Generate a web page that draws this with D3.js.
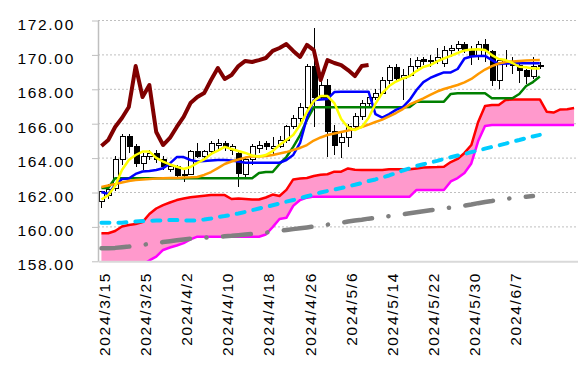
<!DOCTYPE html>
<html>
<head>
<meta charset="utf-8">
<script src="https://cdn.jsdelivr.net/npm/d3@7"></script>
<style>
body { margin: 0; background: #fff; }
svg text { font-family: "Liberation Sans", Arial, sans-serif; font-size: 15.5px; letter-spacing: 1.7px; fill: #000; }
</style>
</head>
<body>
<svg id="chart" width="583" height="378"></svg>
<script>
// trading days on the category axis (last few are only used by the cloud)
var dates = [
	"2024/3/15","2024/3/18","2024/3/19","2024/3/20","2024/3/21","2024/3/22",
	"2024/3/25","2024/3/26","2024/3/27","2024/3/28","2024/3/29",
	"2024/4/1","2024/4/2","2024/4/3","2024/4/4","2024/4/5",
	"2024/4/8","2024/4/9","2024/4/10","2024/4/11","2024/4/12",
	"2024/4/15","2024/4/16","2024/4/17","2024/4/18","2024/4/19",
	"2024/4/22","2024/4/23","2024/4/24","2024/4/25","2024/4/26",
	"2024/4/29","2024/4/30","2024/5/1","2024/5/2","2024/5/3",
	"2024/5/6","2024/5/7","2024/5/8","2024/5/9","2024/5/10",
	"2024/5/13","2024/5/14","2024/5/15","2024/5/16","2024/5/17",
	"2024/5/20","2024/5/21","2024/5/22","2024/5/23","2024/5/24",
	"2024/5/27","2024/5/28","2024/5/29","2024/5/30","2024/5/31",
	"2024/6/3","2024/6/4","2024/6/5","2024/6/6","2024/6/7",
	"2024/6/10","2024/6/11","2024/6/12","2024/6/13","2024/6/14",
	"2024/6/17","2024/6/18","2024/6/19","2024/6/20"
];

var tickLabels = ["2024/3/15","2024/3/25","2024/4/2","2024/4/10","2024/4/18","2024/4/26",
	"2024/5/6","2024/5/14","2024/5/22","2024/5/30","2024/6/7"];

var yTicks = [158,160,162,164,166,168,170,172];

// candles
var open = [161.5,161.8,162.25,163.93,165.28,164.7,163.66,164.08,164.28,163.9,
	163.35,163.5,163.0,163.05,164.37,164.08,164.37,164.75,164.86,164.45,
	164.28,163.02,163.89,164.57,164.83,164.55,164.70,165.05,165.81,166.33,
	166.97,169.3,167.55,168.25,165.52,164.9,165.17,165.81,166.39,167.20,
	167.55,167.78,168.54,169.24,168.60,168.83,169.35,169.75,169.59,169.70,
	169.5,170.23,170.40,170.63,170.3,169.88,170.58,170.19,168.54,169.6,
	169.53,169.41,169.12,168.77,169.35];
var high = [162.1,162.5,164.1,165.4,165.4,164.8,164.3,164.45,164.5,164.1,
	163.7,163.6,163.3,164.5,164.9,164.5,165.0,165.1,165.0,164.8,
	164.5,164.0,164.8,165.0,165.0,165.2,165.3,165.9,166.5,167.2,
	169.5,171.55,168.6,168.6,165.9,165.5,166.0,166.6,167.4,167.8,
	168.0,168.7,169.4,169.5,169.2,169.8,169.9,169.9,170.0,170.4,
	170.5,170.6,170.8,170.75,170.5,170.8,170.9,170.3,169.8,170.3,
	169.9,169.5,169.2,169.9,169.6];
var low = [161.1,161.6,162.1,163.6,164.3,163.5,163.3,163.9,163.7,163.3,
	163.2,162.9,162.6,163.0,164.0,163.8,164.2,164.5,164.4,164.2,
	162.34,162.8,163.6,164.3,164.5,164.2,164.6,164.9,165.7,166.1,
	166.8,165.8,167.4,164.08,164.18,164.0,164.66,165.6,166.2,166.9,
	167.4,167.7,168.3,168.4,167.38,168.7,169.2,169.4,169.3,169.5,
	169.3,169.9,170.2,170.1,169.4,169.7,169.6,168.2,168.0,169.3,
	168.9,168.35,168.3,168.6,169.2];
var close = [162.05,162.2,163.93,165.28,164.7,163.7,164.08,164.28,163.9,163.5,
	163.5,163.0,163.05,164.37,164.08,164.37,164.86,164.86,164.6,164.66,
	163.12,163.89,164.66,164.76,164.66,164.70,165.05,165.81,166.33,166.97,
	169.35,167.55,168.25,165.52,164.76,165.17,165.81,166.39,167.20,167.55,
	167.78,168.54,169.24,168.60,168.83,169.35,169.65,169.59,169.70,169.82,
	170.23,170.40,170.63,170.23,169.88,170.58,170.28,168.54,169.70,169.53,
	169.41,169.12,168.77,169.35,169.41];

// blue
var tenkan = [162.03,161.91,162.44,162.78,162.81,163.08,163.22,163.25,163.31,163.41,
	163.69,164.06,164.06,163.89,163.80,163.83,163.86,163.89,163.89,163.86,
	163.80,163.73,163.73,163.73,163.73,163.73,163.73,163.89,164.18,164.88,
	166.33,167.38,167.41,167.44,167.84,167.86,167.86,167.86,167.86,167.86,
	166.56,166.36,166.56,166.80,166.97,167.38,167.96,168.42,168.66,168.83,
	168.98,168.98,169.18,169.79,169.91,169.94,169.94,169.70,169.47,169.50,
	169.51,169.51,169.51,169.51,169.51];
// green
var kijun = [162.26,162.26,162.83,162.83,162.83,162.83,162.83,162.83,162.83,162.83,
	162.83,162.83,162.83,162.83,162.83,162.83,162.83,162.83,162.83,162.83,
	162.83,162.83,162.83,163.13,163.19,163.19,163.66,164.06,164.65,165.34,
	166.22,166.95,166.95,166.95,166.95,166.95,166.95,166.95,166.95,166.95,
	166.95,166.95,166.95,166.95,166.95,166.97,167.28,167.28,167.28,167.28,
	167.28,167.73,167.77,167.77,167.77,167.77,167.77,167.48,167.48,167.48,
	167.48,167.73,168.19,168.42,168.74];
// yellow
var ma5 = [161.59,161.85,162.38,163.31,163.89,164.18,164.38,164.38,164.01,163.80,
	163.63,163.50,163.37,163.48,163.72,163.92,164.24,164.44,164.65,164.53,
	164.41,164.30,164.15,164.09,164.18,164.41,164.76,165.05,165.34,165.92,
	166.68,167.32,167.61,167.61,167.20,166.27,165.78,165.63,165.81,166.33,
	167.15,167.78,168.19,168.45,168.63,168.77,169.06,169.30,169.41,169.62,
	169.79,169.94,170.11,170.26,170.31,170.33,170.29,169.99,169.76,169.70,
	169.53,169.31,169.28,169.21,169.21];
// orange
var ma25 = [162.32,162.41,162.49,162.58,162.67,162.73,162.76,162.78,162.81,162.83,
	162.84,162.85,162.87,162.88,162.90,163.02,163.19,163.42,163.66,163.80,
	163.92,164.03,164.09,164.10,164.12,164.18,164.27,164.35,164.47,164.59,
	164.76,165.02,165.20,165.34,165.43,165.52,165.60,165.69,165.81,165.95,
	166.10,166.24,166.42,166.62,166.85,167.12,167.29,167.47,167.67,167.87,
	168.02,168.13,168.25,168.40,168.60,168.89,169.15,169.35,169.50,169.59,
	169.62,169.65,169.67,169.69,169.70];
// cyan dashed
var ma75 = [160.24,160.24,160.24,160.24,160.28,160.31,160.34,160.36,160.37,160.38,
	160.40,160.40,160.38,160.37,160.38,160.43,160.49,160.58,160.63,160.71,
	160.78,160.87,160.97,161.07,161.16,161.26,161.36,161.47,161.56,161.66,
	161.78,161.88,162.00,162.09,162.17,162.26,162.36,162.45,162.55,162.67,
	162.76,162.87,162.99,163.13,163.28,163.40,163.54,163.64,163.74,163.84,
	163.95,164.05,164.15,164.24,164.35,164.44,164.55,164.65,164.74,164.84,
	164.95,165.05,165.16,165.26,165.35];
// grey dash-dot
var ma200 = [158.76,158.76,158.78,158.82,158.86,158.91,158.96,159.01,159.06,159.12,
	159.17,159.22,159.27,159.31,159.34,159.37,159.40,159.42,159.45,159.48,
	159.52,159.56,159.59,159.62,159.67,159.72,159.77,159.82,159.87,159.92,
	159.97,160.02,160.08,160.13,160.19,160.24,160.31,160.37,160.42,160.48,
	160.53,160.58,160.63,160.69,160.73,160.79,160.85,160.91,160.97,161.02,
	161.08,161.13,161.18,161.24,161.30,161.38,161.45,161.51,161.58,161.63,
	161.68,161.71,161.75,161.79];
// red
var senkouA = [159.63,159.63,159.76,160.02,160.11,160.17,160.28,160.75,161.07,161.27,
	161.42,161.56,161.65,161.72,161.77,161.81,161.85,161.85,161.85,161.62,
	161.65,161.62,161.59,161.59,161.71,161.88,161.80,162.15,162.76,162.81,
	162.84,162.96,163.03,163.06,163.21,163.21,163.40,163.32,163.31,163.31,
	163.31,163.31,163.35,163.35,163.35,163.35,163.40,163.45,163.47,163.48,
	163.50,163.77,163.95,164.30,164.76,166.10,167.03,167.09,167.09,167.38,
	167.41,167.41,167.41,167.41,167.41,166.70,166.65,166.83,166.84,166.91];
// magenta
var senkouB = [157.5,157.5,157.5,157.5,157.5,157.5,157.8,158.05,158.27,158.66,
	158.80,158.92,159.06,159.27,159.43,159.43,159.43,159.43,159.43,159.43,
	159.43,159.43,159.43,159.43,159.56,159.99,160.46,160.53,161.22,161.56,
	161.70,161.76,161.76,161.76,161.76,161.76,161.76,161.76,161.76,161.76,
	161.76,161.76,161.76,161.76,161.76,161.76,162.15,162.15,162.15,162.15,
	162.15,162.64,162.84,163.13,163.69,164.99,165.87,165.92,165.92,165.92,
	165.92,165.92,165.92,165.92,165.92,165.92,165.92,165.92,165.92,165.92];
// dark red, lagging
var chikou = [164.70,165.05,165.81,166.33,166.97,169.35,167.55,168.25,165.52,164.76,
	165.17,165.81,166.39,167.20,167.55,167.78,168.54,169.24,168.60,168.83,
	169.35,169.65,169.59,169.70,169.82,170.23,170.40,170.63,170.23,169.88,
	170.58,170.28,168.54,169.70,169.53,169.41,169.12,168.77,169.35,169.41];

var plotLeft = 98, plotRight = 577.5, plotTop = 20.5, plotBottom = 261.3;

var x = d3.scaleBand().domain(dates).range([plotLeft, plotRight]);
var y = d3.scaleLinear().domain([158, 172]).range([plotBottom, plotTop]);
var bw = x.bandwidth();

function cx(i){
	return x(dates[i]) + bw / 2;
}

var svg = d3.select('#chart');

svg.append('clipPath').attr('id', 'plot')
	.append('rect')
	.attr('x', plotLeft).attr('y', plotTop)
	.attr('width', plotRight - plotLeft).attr('height', plotBottom - plotTop);

// dotted gridlines
svg.append('g')
	.selectAll('line')
	.data(yTicks.slice(1))
	.join('line')
	.attr('x1', plotLeft).attr('x2', plotRight)
	.attr('y1', function(d){ return y(d); })
	.attr('y2', function(d){ return y(d); })
	.attr('stroke', '#bfbfbf')
	.attr('stroke-dasharray', '2,2');

// cloud
var cloud = d3.area()
	.x(function(d, i){ return cx(i); })
	.y0(function(d, i){ return y(senkouB[i]); })
	.y1(function(d){ return y(d); });

svg.append('path')
	.datum(senkouA)
	.attr('clip-path', 'url(#plot)')
	.attr('fill', '#ff99cc')
	.attr('d', cloud);

function drawLine(values, color, width, dash){
	var line = d3.line()
		.x(function(d, i){ return cx(i); })
		.y(function(d){ return y(d); });
	svg.append('path')
		.datum(values)
		.attr('clip-path', 'url(#plot)')
		.attr('fill', 'none')
		.attr('stroke', color)
		.attr('stroke-width', width)
		.attr('stroke-linejoin', 'round')
		.attr('stroke-linecap', dash ? 'round' : 'butt')
		.attr('stroke-dasharray', dash || null)
		.attr('d', line);
}

drawLine(senkouA, '#ff0000', 2.5);
drawLine(senkouB, '#ff00ff', 2.5);
drawLine(ma200, '#808080', 4.5, '28,16.5,0.1,16.5');
drawLine(ma75, '#00ccff', 4, '8,9');

// candlesticks
var candles = open.map(function(o, i){
	return {i: i, o: o, h: high[i], l: low[i], c: close[i]};
});

var cg = svg.append('g').attr('clip-path', 'url(#plot)').attr('shape-rendering', 'crispEdges');

cg.selectAll('line')
	.data(candles)
	.join('line')
	.attr('x1', function(d){ return Math.round(cx(d.i)) + 0.5; })
	.attr('x2', function(d){ return Math.round(cx(d.i)) + 0.5; })
	.attr('y1', function(d){ return y(d.h); })
	.attr('y2', function(d){ return y(d.l); })
	.attr('stroke', '#000');

cg.selectAll('rect')
	.data(candles)
	.join('rect')
	.attr('x', function(d){ return Math.round(cx(d.i)) - 2; })
	.attr('y', function(d){ return y(Math.max(d.o, d.c)); })
	.attr('width', 5)
	.attr('height', function(d){ return Math.max(1, Math.abs(y(d.o) - y(d.c))); })
	.attr('fill', function(d){ return d.c >= d.o ? '#fff' : '#000'; })
	.attr('stroke', '#000');

drawLine(kijun, '#008000', 2.5);
drawLine(tenkan, '#0000ff', 2.5);
drawLine(ma25, '#ff9900', 2.5);
drawLine(ma5, '#ffff00', 2.5);
drawLine(chikou, '#800000', 4);

// axes
var gy = svg.append('g')
	.attr('transform', 'translate(' + plotLeft + ',0)')
	.call(d3.axisLeft(y).tickValues(yTicks).tickFormat(d3.format('.2f'))
		.tickSizeInner(6).tickSizeOuter(0).tickPadding(17));
gy.select('.domain').attr('stroke', '#bfbfbf').attr('stroke-width', 1.5);
gy.selectAll('.tick line').attr('stroke', '#bfbfbf');
gy.selectAll('.tick text').attr('dy', '0.55em');

var gx = svg.append('g')
	.attr('transform', 'translate(0,' + plotBottom + ')')
	.call(d3.axisBottom(x).tickValues(tickLabels).tickSize(0).tickSizeOuter(0));
gx.select('.domain').attr('stroke', '#d9d9d9').attr('stroke-width', 2);
gx.selectAll('.tick text')
	.attr('x', null).attr('y', null).attr('dy', null)
	.attr('text-anchor', 'end')
	.attr('transform', 'translate(8.6,10.5) rotate(-90)');
</script>
</body>
</html>
